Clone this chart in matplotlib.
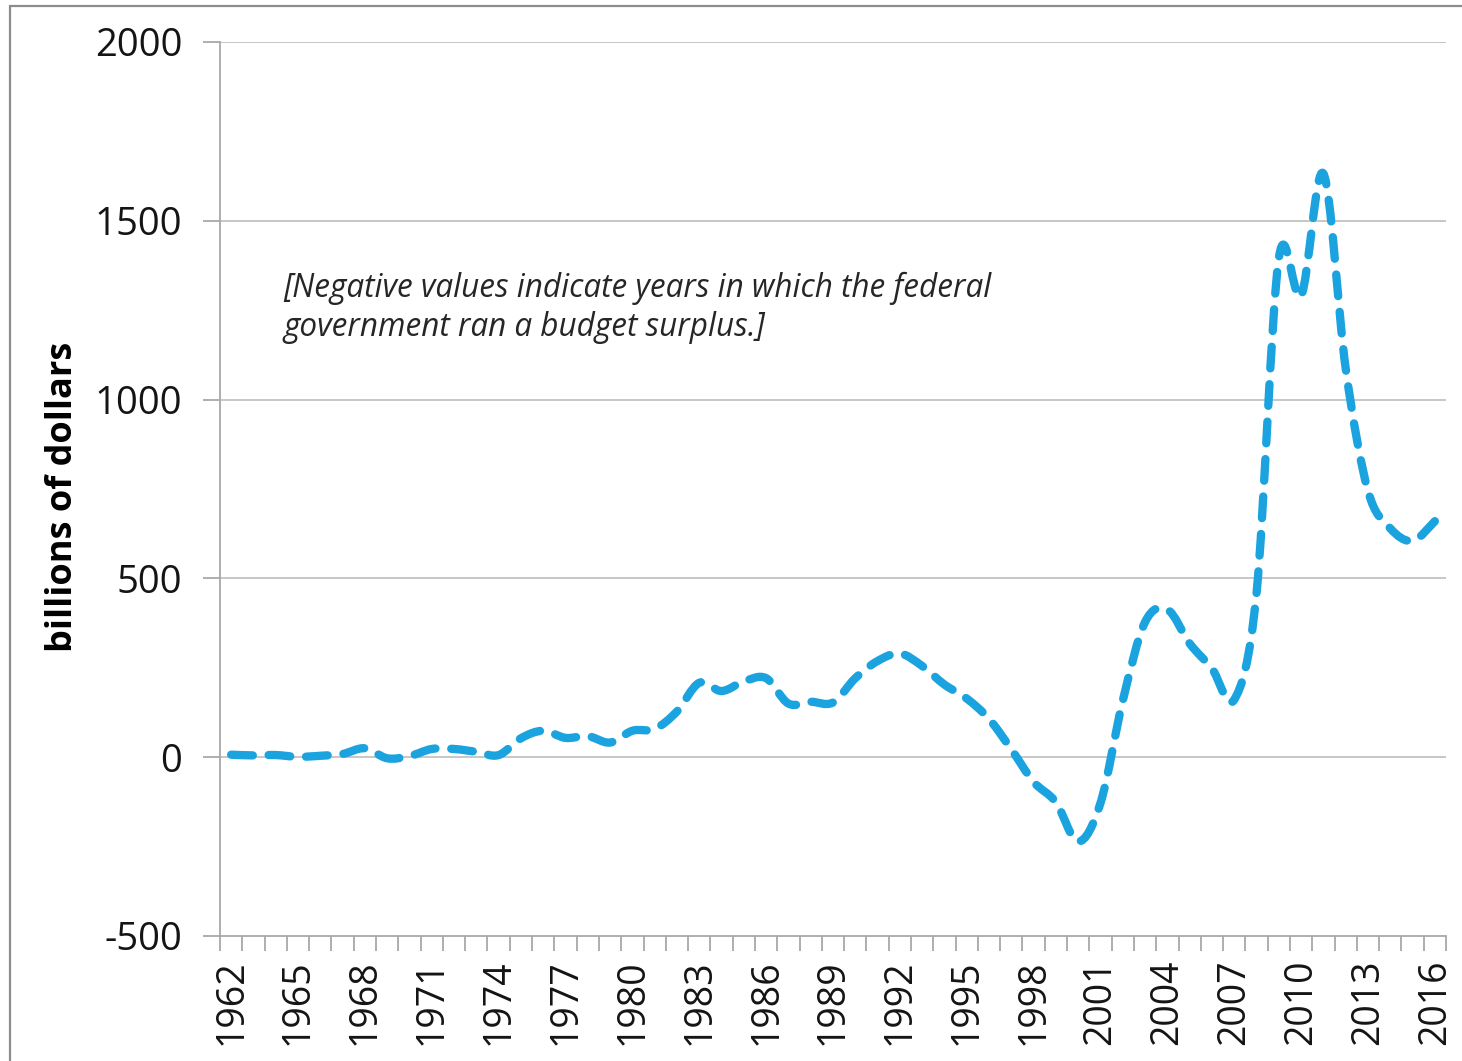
import numpy as np
import matplotlib
matplotlib.use("Agg")
import matplotlib.pyplot as plt
from matplotlib.path import Path
from matplotlib.patches import PathPatch, Rectangle

# ---- data -------------------------------------------------------------
years = list(range(1962, 2017))
deficit = [7, 5, 6, 1, 4, 9, 25, -3, 3, 23,
           23, 15, 6, 53, 74, 54, 59, 41, 74, 79,
           128, 208, 185, 212, 221, 150, 155, 153, 221, 269,
           290, 255, 203, 164, 107, 22, -69, -126, -236, -128,
           158, 378, 413, 318, 248, 161, 459, 1395, 1290, 1632,
           1087, 745, 640, 605, 660]
ytick_vals = [-500, 0, 500, 1000, 1500, 2000]
ytick_labels = ["-500", "0", "500", "1000", "1500", "2000"]
xlabel_years = list(range(1962, 2017, 3))
note_lines = ["[Negative values indicate years in which the federal",
              "government ran a budget surplus.]"]
ylabel = "billions of dollars"

# ---- figure -----------------------------------------------------------
W, H = 1462, 1061
fig = plt.figure(figsize=(W / 100, H / 100), dpi=100)
fig.patch.set_facecolor("white")
ax = fig.add_axes([220 / W, 1 - 936 / H, (1446 - 220) / W, (936 - 42) / H])

font = "Open Sans"
grid_c = "#C3C3C3"
axis_c = "#A8A8A8"
line_c = "#1BA3DF"
text_c = "#141414"

# smoothed (Excel-style) line built as a Bezier path through the data
x = np.arange(len(years), dtype=float)
y = np.array(deficit, dtype=float)
pts = np.column_stack([x, y])
n = len(pts)
tang = np.zeros_like(pts)
tang[1:-1] = (pts[2:] - pts[:-2]) / 2.0
tang[0] = (pts[1] - pts[0]) / 2.0
tang[-1] = (pts[-1] - pts[-2]) / 2.0
verts = [pts[0]]
codes = [Path.MOVETO]
for i in range(n - 1):
    verts += [pts[i] + tang[i] / 3.0, pts[i + 1] - tang[i + 1] / 3.0, pts[i + 1]]
    codes += [Path.CURVE4] * 3
path = Path(np.array(verts), codes)
ax.add_patch(PathPatch(path, fill=False, edgecolor=line_c, lw=6.0,
                       linestyle=(0, (2.6, 1.9)), capstyle="round",
                       joinstyle="round", zorder=3))

ax.set_xlim(-0.5, len(years) - 0.5)
ax.set_ylim(-500, 2000)

# y axis
ax.set_yticks(ytick_vals)
ax.set_yticklabels(ytick_labels, fontfamily=font, fontsize=27.5, color=text_c)
ax.tick_params(axis="y", direction="out", length=12, width=1.3, color=axis_c, pad=15)
for v in ytick_vals[1:]:
    ax.axhline(v, color=grid_c, lw=1.3, zorder=1)

# x axis: labels at category centres, tick marks between categories
ax.set_xticks([years.index(yr) for yr in xlabel_years])
ax.set_xticklabels([str(yr) for yr in xlabel_years], rotation=90,
                   fontfamily=font, fontsize=27, color=text_c)
ax.set_xticks(np.arange(-0.5, len(years), 1.0), minor=True)
ax.tick_params(axis="x", which="major", length=0, pad=17)
ax.tick_params(axis="x", which="minor", direction="out", length=11, width=1.3, color=axis_c)

for s in ["top", "right"]:
    ax.spines[s].set_visible(False)
for s in ["left", "bottom"]:
    ax.spines[s].set_color(axis_c)
    ax.spines[s].set_linewidth(1.3)

# y label
fig.text(63 / W, 1 - 497 / H, ylabel, rotation=90, ha="center", va="center",
         fontfamily=font, fontweight="bold", fontsize=26, color="black")

# note
tx = (283 - 220) / 1226
ax.text(tx, (936 - 297) / 894, note_lines[0], transform=ax.transAxes,
        fontfamily=font, style="italic", fontsize=22.7, color="#262626", va="baseline")
ax.text(tx, (936 - 336) / 894, note_lines[1], transform=ax.transAxes,
        fontfamily=font, style="italic", fontsize=22.7, color="#262626", va="baseline")

# chart border
fig.patches.append(Rectangle((10 / W, -0.02), 1.02, 1 - 5.5 / H + 0.02,
                             transform=fig.transFigure, fill=False,
                             edgecolor="#8C8C8C", lw=1.6))

fig.savefig("out.png", dpi=100, facecolor="white")
